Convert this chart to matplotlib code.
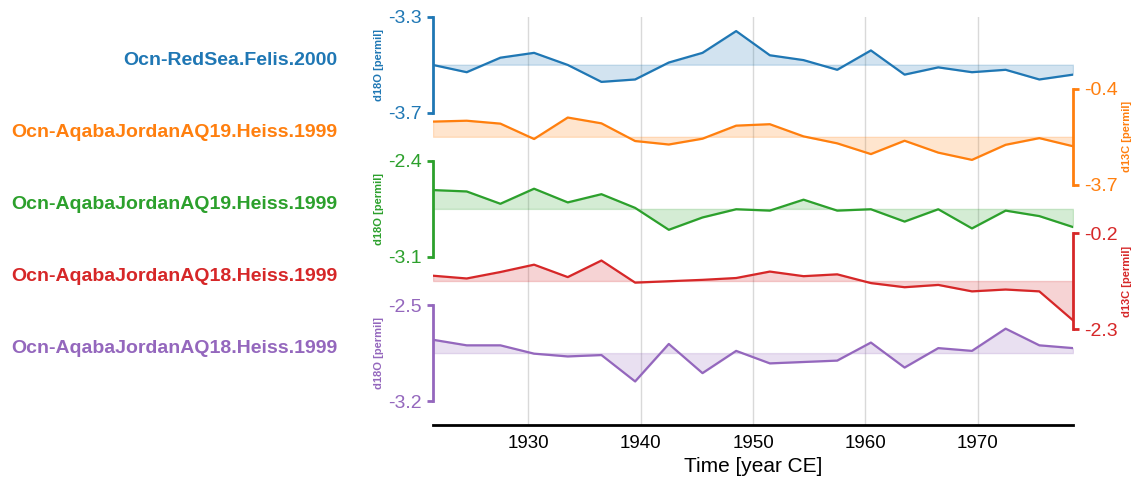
import numpy as np
import matplotlib
matplotlib.use("Agg")
import matplotlib.pyplot as plt
from matplotlib.ticker import FormatStrFormatter

plt.rcParams['font.family'] = ['Liberation Sans', 'DejaVu Sans']

# time axis (year CE), shared by all records
time = [1921.5, 1924.5, 1927.5, 1930.5, 1933.5, 1936.5, 1939.5, 1942.5, 1945.5, 1948.5,
        1951.5, 1954.5, 1957.5, 1960.5, 1963.5, 1966.5, 1969.5, 1972.5, 1975.5, 1978.5]

redsea_d18o = [-3.50, -3.53, -3.47, -3.45, -3.50, -3.57, -3.56, -3.49, -3.45, -3.36,
               -3.46, -3.48, -3.52, -3.44, -3.54, -3.51, -3.53, -3.52, -3.56, -3.54]
aq19_d13c = [-1.53, -1.50, -1.60, -2.13, -1.39, -1.59, -2.20, -2.32, -2.12, -1.67,
             -1.62, -2.04, -2.28, -2.65, -2.19, -2.60, -2.85, -2.33, -2.10, -2.38]
aq19_d18o = [-2.61, -2.62, -2.71, -2.60, -2.70, -2.64, -2.74, -2.90, -2.81, -2.75,
             -2.76, -2.68, -2.76, -2.75, -2.84, -2.75, -2.89, -2.76, -2.80, -2.88]
aq18_d13c = [-1.13, -1.19, -1.05, -0.89, -1.16, -0.80, -1.28, -1.25, -1.22, -1.18,
             -1.04, -1.14, -1.10, -1.29, -1.38, -1.33, -1.47, -1.43, -1.47, -2.10]
aq18_d18o = [-2.75, -2.79, -2.79, -2.85, -2.87, -2.86, -3.05, -2.78, -2.99, -2.83,
             -2.92, -2.91, -2.90, -2.77, -2.95, -2.81, -2.83, -2.67, -2.79, -2.81]

names = ['Ocn-RedSea.Felis.2000', 'Ocn-AqabaJordanAQ19.Heiss.1999',
         'Ocn-AqabaJordanAQ19.Heiss.1999', 'Ocn-AqabaJordanAQ18.Heiss.1999',
         'Ocn-AqabaJordanAQ18.Heiss.1999']
ylabels = ['d18O [permil]', 'd13C [permil]', 'd18O [permil]', 'd13C [permil]', 'd18O [permil]']
series = [redsea_d18o, aq19_d13c, aq19_d18o, aq18_d13c, aq18_d18o]
colors = ['tab:blue', 'tab:orange', 'tab:green', 'tab:red', 'tab:purple']
xticks = [1930, 1940, 1950, 1960, 1970]

W, H = 1141, 487
fig = plt.figure(figsize=(W / 100, H / 100), dpi=100)

left = 433 / W
width = 640 / W
top0, step, ph = 16.7, 72.1, 96.0
xlim = [time[0], time[-1]]

# background axis carrying the time axis and grid
axb = fig.add_axes([left, 1 - 425 / H, width, (425 - top0) / H], zorder=0)
axb.set_xlim(xlim)
axb.set_xticks(xticks)
axb.grid(axis='x', color='#d9d9d9', lw=1)
axb.set_yticks([])
for s in ['left', 'right', 'top']:
    axb.spines[s].set_visible(False)
axb.spines['bottom'].set_linewidth(2)
axb.spines['bottom'].set_color('black')
axb.tick_params(axis='x', length=0, pad=7, labelsize=13.5)
axb.set_xlabel('Time [year CE]', fontsize=15)
axb.patch.set_alpha(0)

for i, (vals, clr, name, ylab) in enumerate(zip(series, colors, names, ylabels)):
    top = top0 + step * i
    ax = fig.add_axes([left, 1 - (top + ph) / H, width, ph / H], zorder=1 + i)
    v = np.array(vals)
    mu, std = v.mean(), v.std()
    ylim = [mu - 4 * std, mu + 4 * std]
    ax.fill_between(time, v, y2=mu, color=clr, alpha=0.2)
    ax.plot(time, v, color=clr, lw=1.6)
    ax.patch.set_alpha(0)
    ax.set_xlim(xlim)
    ax.set_ylim(ylim)
    ax.set_yticks(ylim)
    ax.yaxis.set_major_formatter(FormatStrFormatter('%.1f'))
    ax.set_xticks([])
    side = 'left' if i % 2 == 0 else 'right'
    other = 'right' if side == 'left' else 'left'
    for s in ['top', 'bottom', other]:
        ax.spines[s].set_visible(False)
    ax.spines[side].set_color(clr)
    ax.spines[side].set_linewidth(2)
    ax.yaxis.set_ticks_position(side)
    ax.yaxis.set_label_position(side)
    ax.tick_params(axis='y', direction='out', length=4, width=2, colors=clr,
                   labelsize=14, pad=4)
    ax.set_ylabel(ylab, color=clr, fontsize=8, fontweight='bold', labelpad=3)
    ax.text(-0.15, 0.545, name, transform=ax.transAxes, ha='right', va='center',
            color=clr, fontsize=14, fontweight='bold')

fig.savefig('out.png', dpi=100)
